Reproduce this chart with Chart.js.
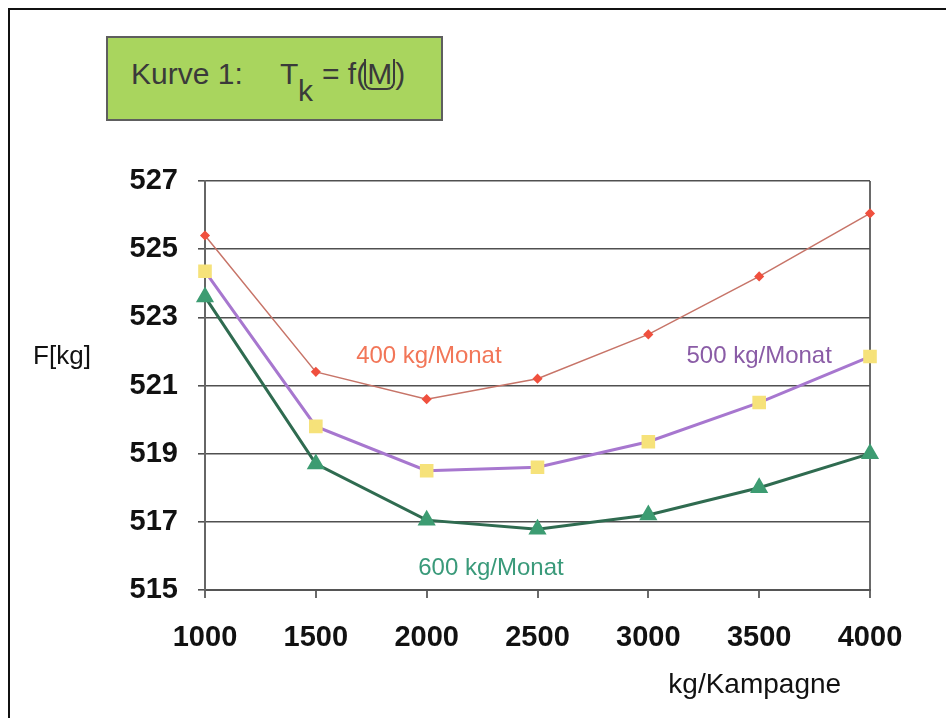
<!DOCTYPE html>
<html>
<head>
<meta charset="utf-8">
<script src="https://cdn.jsdelivr.net/npm/chart.js@4"></script>
<style>
  html, body { margin: 0; padding: 0; background: #fff; }
  #wrap { position: relative; width: 946px; height: 718px; overflow: hidden; font-family: "Liberation Sans", Arial, sans-serif; }
  #frame { position: absolute; left: 8px; top: 8px; width: 950px; height: 720px; border-top: 2px solid #111; border-left: 2px solid #111; }
  canvas { position: absolute; left: 0; top: 0; }
  #titlebox { position: absolute; left: 106px; top: 36px; width: 337px; height: 85px; box-sizing: border-box;
    background: #a9d55e; border: 2px solid #5e5e5e; color: #3a3a3a; font-size: 30px; }
  #titlebox > span { position: absolute; white-space: nowrap; }
  .mbox { display: inline-block; border: 2px solid #3a3a3a; border-top: none; border-radius: 0 0 8px 8px; line-height: 29px; padding: 0 1px; margin-left: -2px; }
  .lbl { position: absolute; white-space: nowrap; transform: translate(-50%, -50%); }
</style>
</head>
<body>
<div id="wrap">
  <div id="frame"></div>
  <canvas id="c" width="946" height="718"></canvas>
  <div id="titlebox">
    <span style="left:23px; top:19px;">Kurve 1:</span>
    <span style="left:172px; top:19px;">T</span>
    <span style="left:190px; top:36px;">k</span>
    <span style="left:214px; top:19px;">= f(<span class="mbox">M</span>)</span>
  </div>
  <div id="labels"></div>
</div>
<script>
// ---- data ----
const categories = [1000, 1500, 2000, 2500, 3000, 3500, 4000];
const series400 = [525.4, 521.4, 520.6, 521.2, 522.5, 524.2, 526.05];
const series500 = [524.35, 519.8, 518.5, 518.6, 519.35, 520.5, 521.85];
const series600 = [523.6, 518.7, 517.05, 516.78, 517.2, 518.0, 519.0];
const seriesNames = ['400 kg/Monat', '500 kg/Monat', '600 kg/Monat'];
const yTicks = [515, 517, 519, 521, 523, 525, 527];
const xTitle = 'kg/Kampagne';
const yTitle = 'F[kg]';

// annotation anchors in data units (label text from seriesNames)
const annotations = [
  { name: seriesNames[0], x: 2010, y: 521.9, color: '#f27658' },
  { name: seriesNames[1], x: 3500, y: 521.9, color: '#8a5ca6' },
  { name: seriesNames[2], x: 2290, y: 515.68, color: '#3a9a7a' }
];

const toPts = arr => categories.map((c, i) => ({ x: c, y: arr[i] }));

const chart = new Chart(document.getElementById('c'), {
  type: 'line',
  data: {
    datasets: [
      { label: seriesNames[2], data: toPts(series600), borderColor: '#2f6b50', borderWidth: 3, clip: false,
        pointStyle: 'triangle', pointRadius: 7.5, pointBackgroundColor: '#3d9c72', pointBorderColor: '#3d9c72', tension: 0 },
      { label: seriesNames[1], data: toPts(series500), borderColor: '#a777cf', borderWidth: 3, clip: false,
        pointStyle: 'rect', pointRadius: 7.5, pointBackgroundColor: '#f6e27a', pointBorderColor: '#f6e27a', tension: 0 },
      { label: seriesNames[0], data: toPts(series400), borderColor: '#c77468', borderWidth: 1.5, clip: false,
        pointStyle: 'rectRot', pointRadius: 4, pointBackgroundColor: '#f0503e', pointBorderColor: '#f0503e', tension: 0 }
    ]
  },
  options: {
    responsive: false,
    animation: false,
    devicePixelRatio: 1,
    layout: { padding: { left: 0, top: 181, right: 76, bottom: 0 } },
    plugins: { legend: { display: false }, tooltip: { enabled: false } },
    scales: {
      x: {
        type: 'linear', min: 1000, max: 4000,
        afterFit: s => { s.height = 128; },
        afterBuildTicks: s => { s.ticks = categories.map(v => ({ value: v })); },
        ticks: { font: { family: '"Liberation Sans", Arial', size: 29, weight: 'bold' }, color: '#111', padding: 23, maxRotation: 0,
          callback: v => String(v) },
        grid: {
          color: ctx => (ctx.tick && (ctx.tick.value === 1000 || ctx.tick.value === 4000)) ? '#6a6a6a' : 'rgba(0,0,0,0)',
          tickColor: '#6a6a6a', tickLength: 8, lineWidth: 2
        },
        border: { display: true, color: '#555', width: 2 }
      },
      y: {
        min: 515, max: 527,
        afterFit: s => { s.width = 205; },
        afterBuildTicks: s => { s.ticks = yTicks.map(v => ({ value: v })); },
        ticks: { font: { family: '"Liberation Sans", Arial', size: 29, weight: 'bold' }, color: '#111', padding: 20,
          callback: v => String(v) },
        grid: { color: '#505050', lineWidth: 1.6, tickLength: 7, tickColor: '#505050' },
        border: { display: true, color: '#666', width: 2 }
      }
    }
  }
});

// overlay text labels
const labels = document.getElementById('labels');
function addLabel(text, left, top, color, size) {
  const d = document.createElement('div');
  d.className = 'lbl';
  d.textContent = text;
  d.style.left = left + 'px';
  d.style.top = top + 'px';
  d.style.color = color;
  d.style.fontSize = size + 'px';
  labels.appendChild(d);
}
const xs = chart.scales.x, ys = chart.scales.y;
annotations.forEach(a => addLabel(a.name, xs.getPixelForValue(a.x), ys.getPixelForValue(a.y), a.color, 24));
addLabel(xTitle, xs.getPixelForValue(3480), ys.bottom + 94, '#111', 28);
addLabel(yTitle, 62, ys.getPixelForValue(521.9), '#111', 26);
</script>
</body>
</html>
